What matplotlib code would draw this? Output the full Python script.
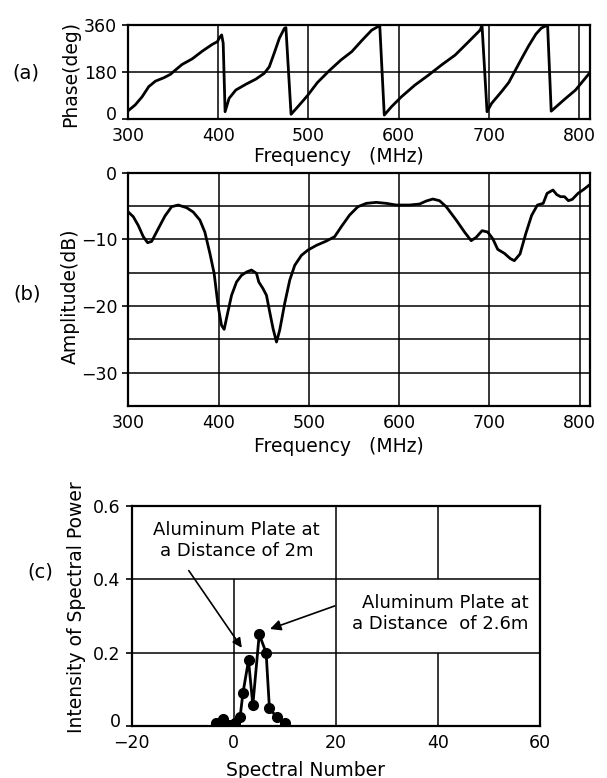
import numpy as np
import matplotlib
matplotlib.use("Agg")
import matplotlib.pyplot as plt
from matplotlib.transforms import ScaledTranslation

# (a) phase vs frequency
phase_freq = [300, 308, 315.6, 323, 330.4, 339.7, 347, 352.7, 360, 371, 382.4, 393.5, 399,
              401.5, 403.8, 405.5, 407.6,
              412, 419.5, 430.6, 441.8, 451, 456.6, 462, 467.7, 473.3, 475, 480.7,
              490, 499, 510, 523, 536, 548, 559, 570, 579, 584,
              592, 603, 618, 633, 647.5, 662.6, 677.5, 690.4, 692.3, 697.9,
              703, 714, 722, 729, 736, 744, 752, 758, 765, 769,
              783, 796, 812]
phase_deg = [31, 54, 85, 124, 145, 158, 171, 188, 209, 230, 260, 286, 296,
             312, 322, 290, 28,
             79, 111, 133, 153, 175, 200, 252, 309, 347, 350, 18,
             54, 90, 140, 185, 226, 258, 300, 340, 358, 15,
             47, 85, 130, 168, 207, 245, 296, 341, 360, 28,
             60, 105, 140, 185, 230, 280, 325, 348, 360, 30,
             73, 111, 178]

# (b) amplitude vs frequency
amp_freq = [300, 305.5, 311, 316.6, 321.4, 325.9, 333.2, 340.6, 348, 355.3, 364.6, 371.9,
            379.3, 384.8, 390.4, 395.1, 399.6, 403.3, 406.2, 410, 414.4, 419.9, 425.4,
            431, 436.5, 442, 444.6, 449.3, 453.1, 456.7, 460.4, 464.2, 467.8, 473.3,
            478.9, 484.4, 491.8, 499.1, 508.4, 519.5, 528.6, 536, 545.2, 554.4, 563.7,
            574.8, 585.8, 596.9, 611.6, 622.7, 630.1, 637.4, 644.8, 652.2, 663.3, 672.5,
            679.9, 685.4, 692, 698.2, 703.8, 709.3, 716.7, 723.4, 727.7, 734, 740.5,
            746.9, 753.3, 759.7, 764, 770.5, 774.8, 779, 783.3, 787.6, 791.9, 798.3,
            804.7, 811.2]
amp_db = [-5.9, -6.6, -7.9, -9.6, -10.5, -10.3, -8.4, -6.5, -5.1, -4.85, -5.25, -5.9,
          -7.1, -8.9, -12.1, -15.1, -20.1, -22.9, -23.5, -21.1, -18.4, -16.4, -15.4,
          -14.9, -14.6, -15.1, -16.4, -17.4, -18.4, -20.9, -23.4, -25.4, -23.6, -19.6,
          -16.1, -13.9, -12.4, -11.6, -10.9, -10.25, -9.6, -8.1, -6.35, -5.1, -4.6,
          -4.45, -4.6, -4.85, -4.85, -4.7, -4.25, -3.95, -4.2, -5.1, -7.1, -8.9,
          -10.2, -9.7, -8.7, -8.9, -9.9, -11.5, -12.1, -12.9, -13.2, -12.2, -9.1,
          -6.4, -4.85, -4.6, -3.1, -2.6, -3.3, -3.6, -3.6, -4.2, -4.0, -3.1,
          -2.5, -1.8]

# (c) spectral power
spec_num = [-3.4, -2.1, -0.7, 0.3, 1.25, 1.8, 2.9, 3.75, 5.0, 6.35, 7.0, 8.45, 10.0]
spec_pow = [0.007, 0.018, 0.003, 0.007, 0.024, 0.089, 0.179, 0.057, 0.25, 0.2, 0.048, 0.024, 0.007]

W, H = 607, 778
LW = 2.0
TICK_FS = 12.5
LABEL_FS = 13.5

fig = plt.figure(figsize=(W / 100, H / 100), dpi=100)

def px_axes(left, top, right, bottom):
    return fig.add_axes([left / W, 1 - bottom / H, (right - left) / W, (bottom - top) / H])

def style(ax, bottom_label_up=False):
    for s in ax.spines.values():
        s.set_linewidth(1.6)
    ax.tick_params(axis='y', direction='out', length=4, width=1.2, pad=4, labelsize=TICK_FS)
    ax.tick_params(axis='x', length=0, pad=6, labelsize=TICK_FS)
    ax.tick_params(which='minor', length=0)
    if bottom_label_up:
        # lift the lowest y label a little off the corner, as in the print
        lab = ax.get_yticklabels()[0]
        lab.set_transform(lab.get_transform() + ScaledTranslation(0, 4 / 72, fig.dpi_scale_trans))

# ---- (a)
ax_a = px_axes(128, 25, 590, 119)
ax_a.plot(phase_freq, phase_deg, color='k', lw=LW)
ax_a.set_xlim(300, 812)
ax_a.set_ylim(0, 360)
ax_a.set_xticks([300, 400, 500, 600, 700, 800])
ax_a.set_yticks([0, 180, 360])
ax_a.grid(True, color='k', lw=1.1)
style(ax_a, bottom_label_up=True)

# ---- (b)
ax_b = px_axes(128.3, 172.7, 590.4, 406)
ax_b.plot(amp_freq, amp_db, color='k', lw=LW)
ax_b.set_xlim(300, 812)
ax_b.set_ylim(-35, 0)
ax_b.set_xticks([300, 400, 500, 600, 700, 800])
ax_b.set_yticks([0, -10, -20, -30])
ax_b.set_yticks([-5, -15, -25], minor=True)
ax_b.grid(True, which='both', color='k', lw=1.1)
style(ax_b)

# ---- (c)
ax_c = px_axes(131.6, 506, 540, 726)
ax_c.set_xlim(-20, 60)
ax_c.set_ylim(0, 0.6)
ax_c.set_xticks([-20, 0, 20, 40, 60])
ax_c.set_xticklabels(['\u221220', '0', '20', '40', '60'])
ax_c.set_yticks([0, 0.2, 0.4, 0.6])
ax_c.set_yticklabels(['0', '0.2', '0.4', '0.6'])
# grid, left open behind the two notes
for yv in [0.2, 0.4]:
    ax_c.axhline(yv, color='k', lw=1.1, zorder=1)
ax_c.vlines([0, 20, 40, 40], [0, 0, 0, 0.4], [0.4, 0.6, 0.2, 0.6], color='k', lw=1.1, zorder=1)
ax_c.plot(spec_num, spec_pow, color='k', lw=LW, marker='o', ms=7, zorder=3)
style(ax_c, bottom_label_up=True)

ax_c.text(0.5, 0.507, 'Aluminum Plate at\na Distance of 2m', ha='center', va='center',
          multialignment='center', fontsize=13)
ax_c.annotate('', xy=(1.9, 0.207), xytext=(-9.1, 0.43),
              arrowprops=dict(arrowstyle='-|>', color='k', lw=1.2, mutation_scale=14))
ax_c.text(57.7, 0.307, 'Aluminum Plate at\na Distance  of 2.6m', ha='right', va='center',
          multialignment='right', fontsize=13)
ax_c.annotate('', xy=(6.6, 0.262), xytext=(20.3, 0.33),
              arrowprops=dict(arrowstyle='-|>', color='k', lw=1.2, mutation_scale=16))

# ---- outer labels
def ftext(x, y, s, **kw):
    fig.text(x / W, 1 - y / H, s, ha='center', va='center', **kw)

ftext(26, 73, '(a)', fontsize=14)
ftext(71, 74, 'Phase(deg)', fontsize=LABEL_FS, rotation=90)
ftext(339, 156, 'Frequency   (MHz)', fontsize=LABEL_FS)
ftext(27, 294, '(b)', fontsize=14)
ftext(70, 296, 'Amplitude(dB)', fontsize=LABEL_FS, rotation=90)
ftext(339, 447, 'Frequency   (MHz)', fontsize=LABEL_FS)
ftext(40, 572, '(c)', fontsize=14)
ftext(76, 607, 'Intensity of Spectral Power', fontsize=LABEL_FS, rotation=90)
ftext(306, 770, 'Spectral Number', fontsize=LABEL_FS)

fig.savefig('out.png', dpi=100)
